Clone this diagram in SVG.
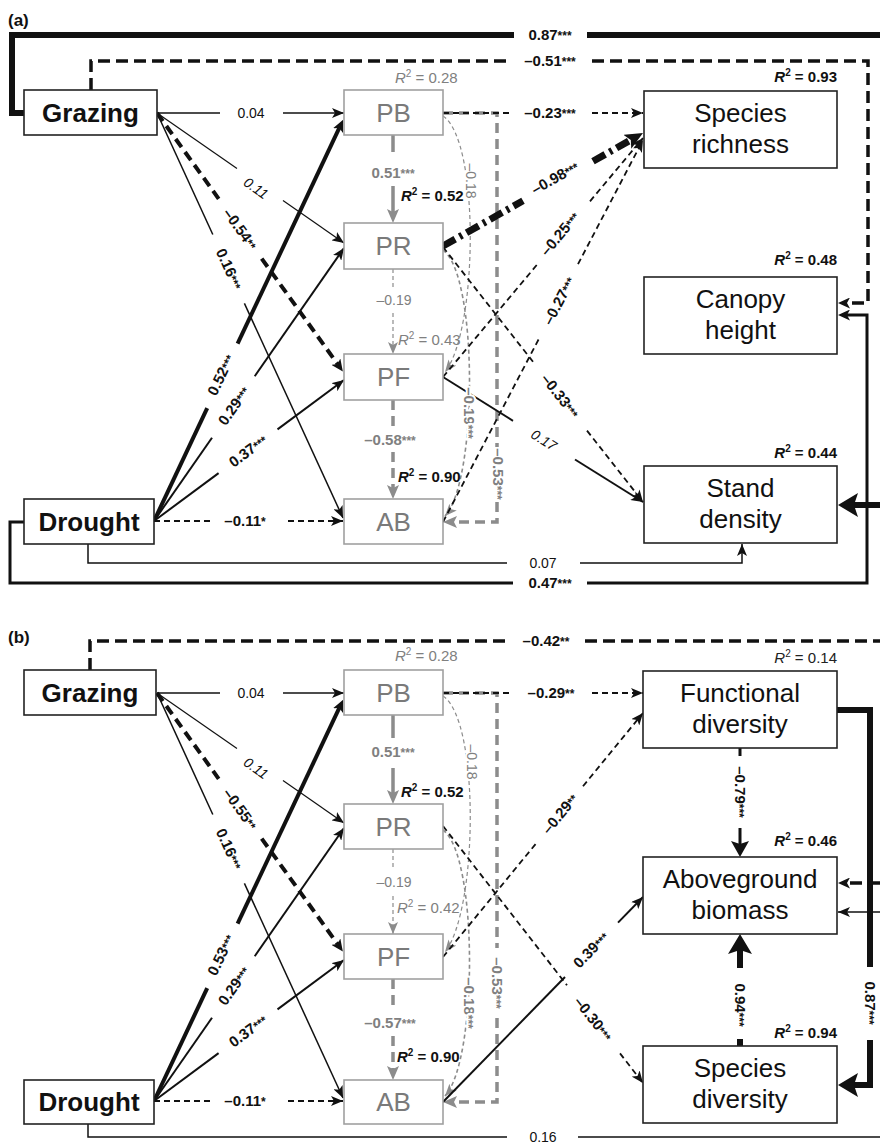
<svg xmlns="http://www.w3.org/2000/svg" width="880" height="1146" viewBox="0 0 880 1146">
<defs>
<style>
text{font-family:"Liberation Sans",Arial,sans-serif;}
.box{fill:#fff;stroke:#222;stroke-width:1.6;}
.mbox{fill:#fff;stroke:#a0a0a0;stroke-width:1.6;}
.nb{font-size:26px;font-weight:bold;fill:#111;text-anchor:middle;}
.n{font-size:26px;fill:#111;text-anchor:middle;}
.nm{font-size:26px;fill:#7a7a7a;text-anchor:middle;}
.lb{font-size:15px;font-weight:bold;fill:#111;text-anchor:middle;}
.l{font-size:14px;fill:#111;text-anchor:middle;}
.li{font-size:14px;font-style:italic;fill:#111;text-anchor:middle;}
.gb{font-size:15px;font-weight:bold;fill:#808080;text-anchor:middle;}
.g{font-size:14px;fill:#808080;text-anchor:middle;}
.halo{paint-order:stroke;stroke:#fff;stroke-width:4px;stroke-linejoin:round;}
.rb{font-size:15px;font-weight:bold;fill:#111;}
.rg{font-size:15px;fill:#808080;}
.rn{font-size:15px;fill:#222;}
.pan{font-size:17px;font-weight:bold;fill:#111;}
.s{font-size:12px;}
.k{fill:none;stroke:#111;stroke-width:1.5;}
.kd{fill:none;stroke:#111;stroke-width:1.8;stroke-dasharray:6 4;}
.kD{fill:none;stroke:#111;stroke-width:3.5;stroke-dasharray:12 6;}
.gr{fill:none;stroke:#8c8c8c;stroke-width:3.5;}
.grd{fill:none;stroke:#8c8c8c;stroke-width:3.5;stroke-dasharray:10 6;}
.grt{fill:none;stroke:#8c8c8c;stroke-width:1.2;stroke-dasharray:4 3;}
</style>
<marker id="a" viewBox="0 0 12 10" refX="12" refY="5" markerWidth="12" markerHeight="10" markerUnits="userSpaceOnUse" orient="auto"><path d="M0,0 L12,5 L0,10 L3,5 Z" fill="#111"/></marker>
<marker id="ag" viewBox="0 0 12 10" refX="12" refY="5" markerWidth="12" markerHeight="10" markerUnits="userSpaceOnUse" orient="auto"><path d="M0,0 L12,5 L0,10 L3,5 Z" fill="#8c8c8c"/></marker>
<marker id="agb" viewBox="0 0 14 12" refX="3" refY="6" markerWidth="14" markerHeight="12" markerUnits="userSpaceOnUse" orient="auto"><path d="M0,0 L14,6 L0,12 L3,6 Z" fill="#8c8c8c"/></marker>
<marker id="am" viewBox="0 0 12 11" refX="3" refY="5.5" markerWidth="12" markerHeight="11" markerUnits="userSpaceOnUse" orient="auto"><path d="M0,0 L12,5.5 L0,11 L3,5.5 Z" fill="#111"/></marker>
<marker id="am2" viewBox="0 0 16 18" refX="3" refY="9" markerWidth="16" markerHeight="18" markerUnits="userSpaceOnUse" orient="auto"><path d="M0,0 L16,9 L0,18 L3,9 Z" fill="#111"/></marker>
<marker id="ab" viewBox="0 0 20 24" refX="4" refY="12" markerWidth="20" markerHeight="24" markerUnits="userSpaceOnUse" orient="auto"><path d="M0,0 L20,12 L0,24 L4,12 Z" fill="#111"/></marker>
<marker id="ad" viewBox="0 0 18 16" refX="4" refY="8" markerWidth="18" markerHeight="16" markerUnits="userSpaceOnUse" orient="auto"><path d="M0,0 L18,8 L0,16 L4,8 Z" fill="#111"/></marker>
</defs>
<rect width="880" height="1146" fill="#fff"/>

<g id="connectors">
<path class="gr" d="M393,135 V152 M393,186 V212" marker-end="url(#agb)"/>
<path class="grt" d="M393,269 V287 M393,313 V354" marker-end="url(#ag)"/>
<path class="grd" d="M393,400 V427 M393,452 V488" marker-end="url(#agb)"/>
<path class="grd" d="M443,113 H497 V447"/>
<path class="grd" d="M497,502 V522 H454" marker-end="url(#agb)"/>
<path class="grt" d="M443,116 C480,140 478,330 445,372" marker-end="url(#ag)"/>
<path class="grt" style="stroke-width:1.6" d="M443,250 C478,275 478,480 445,516" marker-end="url(#ag)"/>
<path class="k" d="M157,113 H220"/><path class="k" d="M283,113 H344" marker-end="url(#a)"/>
<path class="k" style="stroke-width:1.2" d="M157,113 L237,168.6"/><path class="k" style="stroke-width:1.2" d="M283,200.6 L344,243" marker-end="url(#a)"/>
<path class="k" style="stroke-width:4;stroke-dasharray:10 6" d="M157,113 L218.7,198.8"/><path class="k" style="stroke-width:4;stroke-dasharray:10 6" d="M261.7,258.6 L337.6,364.1" marker-end="url(#am)"/>
<path class="k" d="M157,113 L212.8,234.5"/><path class="k" d="M244.4,303.4 L343,518" marker-end="url(#a)"/>
<path class="k" style="stroke-width:4" d="M154,521 L207.2,408.2"/><path class="k" style="stroke-width:4" d="M237.6,343.7 L339.3,127.9" marker-end="url(#am)"/>
<path class="k" style="stroke-width:2" d="M154,521 L212,437.7"/><path class="k" style="stroke-width:2" d="M254.7,376.3 L344,248" marker-end="url(#a)"/>
<path class="k" style="stroke-width:2" d="M154,521 L218.6,473.1"/><path class="k" style="stroke-width:2" d="M277.5,429.4 L344,380" marker-end="url(#a)"/>
<path class="kd" d="M154,521 H212"/><path class="kd" d="M288,521 H343" marker-end="url(#a)"/>
<path class="kd" d="M443,113 H513"/><path class="kd" d="M592,113 H643" marker-end="url(#a)"/>
<path class="k" style="stroke-width:7;stroke-dasharray:14 5 3 5" d="M443,246 L523,200.8"/><path class="k" style="stroke-width:7;stroke-dasharray:14 5 3 5" d="M593,161.3 L630.8,139.9" marker-end="url(#ad)"/>
<path class="kd" d="M443,377 L538,263.5"/><path class="kd" d="M590,201.3 L643,138" marker-end="url(#a)"/>
<path class="kd" d="M443,522 L539,338.6"/><path class="kd" d="M578,264.2 L643,140" marker-end="url(#a)"/>
<path class="kd" d="M443,247 L533,361.8"/><path class="kd" d="M587,430.6 L643,502" marker-end="url(#a)"/>
<path class="k" style="stroke-width:2" d="M443,377 L513,420.8"/><path class="k" style="stroke-width:2" d="M575,459.5 L643,502" marker-end="url(#a)"/>
<path class="k" style="stroke-width:6" d="M24,113 H12 V35 H514 M587,35 H880"/>
<path class="k" style="stroke-width:6" d="M880,505 H854" marker-end="url(#ab)"/>
<path class="kD" d="M91,90 V61 H507"/><path class="kD" d="M592,61 H868 V303 H847" marker-end="url(#am)"/>
<path class="k" style="stroke-width:3" d="M24,522 H10 V583 H513"/><path class="k" style="stroke-width:3" d="M587,583 H867 V315 H847" marker-end="url(#am)"/>
<path class="k" d="M88,544 V563 H507"/><path class="k" d="M580,563 H742 V544" marker-end="url(#a)"/>

<path class="gr" d="M393,715 V738 M393,768 V793" marker-end="url(#agb)"/>
<path class="grt" d="M393,849 V868 M393,896 V934" marker-end="url(#ag)"/>
<path class="grd" d="M393,979 V1008 M393,1036 V1069" marker-end="url(#agb)"/>
<path class="grd" d="M443,693 H497 V948"/>
<path class="grd" d="M497,1018 V1102 H454" marker-end="url(#agb)"/>
<path class="grt" d="M443,696 C480,720 478,910 445,952" marker-end="url(#ag)"/>
<path class="grt" style="stroke-width:1.6" d="M443,830 C478,855 478,1060 445,1096" marker-end="url(#ag)"/>
<path class="k" d="M157,693 H220"/><path class="k" d="M283,693 H344" marker-end="url(#a)"/>
<path class="k" style="stroke-width:1.2" d="M157,693 L237,748.6"/><path class="k" style="stroke-width:1.2" d="M283,780.6 L344,823" marker-end="url(#a)"/>
<path class="k" style="stroke-width:4;stroke-dasharray:10 6" d="M157,693 L218.7,778.8"/><path class="k" style="stroke-width:4;stroke-dasharray:10 6" d="M261.7,838.6 L337.6,944.1" marker-end="url(#am)"/>
<path class="k" d="M157,693 L212.8,814.5"/><path class="k" d="M244.4,883.4 L343,1098" marker-end="url(#a)"/>
<path class="k" style="stroke-width:4" d="M154,1101 L207.2,988.2"/><path class="k" style="stroke-width:4" d="M237.6,923.7 L339.3,707.9" marker-end="url(#am)"/>
<path class="k" style="stroke-width:2" d="M154,1101 L212,1017.7"/><path class="k" style="stroke-width:2" d="M254.7,956.3 L344,828" marker-end="url(#a)"/>
<path class="k" style="stroke-width:2" d="M154,1101 L218.6,1053.1"/><path class="k" style="stroke-width:2" d="M277.5,1009.4 L344,960" marker-end="url(#a)"/>
<path class="kd" d="M154,1101 H212"/><path class="kd" d="M288,1101 H343" marker-end="url(#a)"/>
<path class="kd" d="M443,693 H513"/><path class="kd" d="M592,693 H643" marker-end="url(#a)"/>
<path class="kd" d="M443,957 L537,842.3"/><path class="kd" d="M583,786.2 L643,713" marker-end="url(#a)"/>
<path class="kd" d="M443,826 L567,985.3"/><path class="kd" d="M620,1053.4 L643,1083" marker-end="url(#a)"/>
<path class="k" style="stroke-width:2" d="M443,1102 L565,977"/><path class="k" style="stroke-width:2" d="M618,922.6 L643,897" marker-end="url(#a)"/>
<path class="k" style="stroke-width:3;stroke-dasharray:8 5" d="M740,748 V757"/><path class="k" style="stroke-width:3" d="M740,828 V844" marker-end="url(#am2)"/>
<path class="k" style="stroke-width:6" d="M740,1046 V1039"/><path class="k" style="stroke-width:6" d="M740,968 V950" marker-end="url(#ab)"/>
<path class="k" style="stroke-width:6" d="M837,710 H870 V967"/><path class="k" style="stroke-width:6" d="M870,1040 V1085 H854" marker-end="url(#ab)"/>
<path class="kD" d="M90,670 V641 H507 M585,641 H880"/><path class="kD" d="M880,883 H847" marker-end="url(#am)"/>
<path class="k" d="M88,1124 V1137 H507 M578,1137 H880"/><path class="k" d="M880,912 H838" marker-end="url(#a)"/>
</g>

<g id="edge-labels">
<text class="pan" x="8" y="26">(a)</text>
<text class="lb" x="550" y="40">0.87<tspan class="s">***</tspan></text>
<text class="lb" x="550" y="66">–0.51<tspan class="s">***</tspan></text>
<text class="l" x="251" y="118">0.04</text>
<text class="lb" x="550" y="118">–0.23<tspan class="s">***</tspan></text>
<text class="gb" x="393" y="178">0.51<tspan class="s">***</tspan></text>
<text class="g halo" transform="translate(471,181) rotate(90)" y="5">–0.18</text>
<text class="li" transform="translate(256,188) rotate(34.8)" y="5">0.11</text>
<text class="lb" transform="translate(240,229) rotate(54.3)" y="5">–0.54<tspan class="s">**</tspan></text>
<text class="lb" transform="translate(229,269) rotate(65.3)" y="5">0.16<tspan class="s">***</tspan></text>
<text class="lb" transform="translate(555,178) rotate(-29.5)" y="5">–0.98<tspan class="s">***</tspan></text>
<text class="lb" transform="translate(560,234) rotate(-50.1)" y="5">–0.25<tspan class="s">***</tspan></text>
<text class="lb" transform="translate(559,301) rotate(-62.4)" y="5">–0.27<tspan class="s">***</tspan></text>
<text class="g" x="394" y="305">–0.19</text>
<text class="lb" transform="translate(221,375) rotate(-64.8)" y="5">0.52<tspan class="s">***</tspan></text>
<text class="lb" transform="translate(560,396) rotate(51.9)" y="5">–0.33<tspan class="s">***</tspan></text>
<text class="lb" transform="translate(234,406) rotate(-55.2)" y="5">0.29<tspan class="s">***</tspan></text>
<text class="gb halo" transform="translate(469,413) rotate(90)" y="5">–0.19<tspan class="s">***</tspan></text>
<text class="gb" x="390" y="445">–0.58<tspan class="s">***</tspan></text>
<text class="lb" transform="translate(248,451) rotate(-36.6)" y="5">0.37<tspan class="s">***</tspan></text>
<text class="li" transform="translate(544,440) rotate(32)" y="5">0.17</text>
<text class="gb" transform="translate(498,474) rotate(90)" y="5">–0.53<tspan class="s">***</tspan></text>
<text class="lb" x="245" y="526">–0.11<tspan class="s">*</tspan></text>
<text class="l" x="543" y="568">0.07</text>
<text class="lb" x="550" y="588">0.47<tspan class="s">***</tspan></text>
<text class="rg" x="395" y="83"><tspan font-style="italic">R</tspan><tspan font-size="10" dy="-6">2</tspan><tspan dy="6"> = 0.28</tspan></text>
<text class="rb" x="401" y="201"><tspan font-style="italic">R</tspan><tspan font-size="10" dy="-6">2</tspan><tspan dy="6"> = 0.52</tspan></text>
<text class="rg" x="398" y="345"><tspan font-style="italic">R</tspan><tspan font-size="10" dy="-6">2</tspan><tspan dy="6"> = 0.43</tspan></text>
<text class="rb" x="398" y="482"><tspan font-style="italic">R</tspan><tspan font-size="10" dy="-6">2</tspan><tspan dy="6"> = 0.90</tspan></text>
<text class="rb" x="837" y="82" text-anchor="end"><tspan font-style="italic">R</tspan><tspan font-size="10" dy="-6">2</tspan><tspan dy="6"> = 0.93</tspan></text>
<text class="rb" x="837" y="265" text-anchor="end"><tspan font-style="italic">R</tspan><tspan font-size="10" dy="-6">2</tspan><tspan dy="6"> = 0.48</tspan></text>
<text class="rb" x="837" y="458" text-anchor="end"><tspan font-style="italic">R</tspan><tspan font-size="10" dy="-6">2</tspan><tspan dy="6"> = 0.44</tspan></text>

<text class="pan" x="8" y="643">(b)</text>
<text class="lb" x="546" y="646">–0.42<tspan class="s">**</tspan></text>
<text class="l" x="251" y="698">0.04</text>
<text class="lb" x="551" y="698">–0.29<tspan class="s">**</tspan></text>
<text class="gb" x="393" y="757">0.51<tspan class="s">***</tspan></text>
<text class="g halo" transform="translate(472,762) rotate(90)" y="5">–0.18</text>
<text class="li" transform="translate(256,768) rotate(34.8)" y="5">0.11</text>
<text class="lb" transform="translate(240,809) rotate(54.3)" y="5">–0.55<tspan class="s">**</tspan></text>
<text class="lb" transform="translate(740,792) rotate(90)" y="5">–0.79<tspan class="s">***</tspan></text>
<text class="lb" transform="translate(560,814) rotate(-50.7)" y="5">–0.29<tspan class="s">**</tspan></text>
<text class="lb" transform="translate(229,849) rotate(65.3)" y="5">0.16<tspan class="s">***</tspan></text>
<text class="g" x="394" y="887">–0.19</text>
<text class="lb" transform="translate(591,950) rotate(-45.7)" y="5">0.39<tspan class="s">***</tspan></text>
<text class="lb" transform="translate(221,955) rotate(-64.8)" y="5">0.53<tspan class="s">***</tspan></text>
<text class="gb" transform="translate(497,983) rotate(90)" y="5">–0.53<tspan class="s">***</tspan></text>
<text class="lb" transform="translate(234,986) rotate(-55.2)" y="5">0.29<tspan class="s">***</tspan></text>
<text class="gb halo" transform="translate(469,1003) rotate(90)" y="5">–0.18<tspan class="s">***</tspan></text>
<text class="lb" transform="translate(740,1005) rotate(90)" y="5">0.94<tspan class="s">***</tspan></text>
<text class="lb" transform="translate(870,1003) rotate(90)" y="5">0.87<tspan class="s">***</tspan></text>
<text class="lb" transform="translate(593,1019) rotate(52.1)" y="5">–0.30<tspan class="s">***</tspan></text>
<text class="gb" x="390" y="1028">–0.57<tspan class="s">***</tspan></text>
<text class="lb" transform="translate(248,1031) rotate(-36.6)" y="5">0.37<tspan class="s">***</tspan></text>
<text class="lb" x="245" y="1106">–0.11<tspan class="s">*</tspan></text>
<text class="l" x="543" y="1142">0.16</text>
<text class="rg" x="395" y="661"><tspan font-style="italic">R</tspan><tspan font-size="10" dy="-6">2</tspan><tspan dy="6"> = 0.28</tspan></text>
<text class="rb" x="401" y="797"><tspan font-style="italic">R</tspan><tspan font-size="10" dy="-6">2</tspan><tspan dy="6"> = 0.52</tspan></text>
<text class="rg" x="397" y="913"><tspan font-style="italic">R</tspan><tspan font-size="10" dy="-6">2</tspan><tspan dy="6"> = 0.42</tspan></text>
<text class="rb" x="397" y="1062"><tspan font-style="italic">R</tspan><tspan font-size="10" dy="-6">2</tspan><tspan dy="6"> = 0.90</tspan></text>
<text class="rn" x="837" y="663" text-anchor="end"><tspan font-style="italic">R</tspan><tspan font-size="10" dy="-6">2</tspan><tspan dy="6"> = 0.14</tspan></text>
<text class="rb" x="837" y="846" text-anchor="end"><tspan font-style="italic">R</tspan><tspan font-size="10" dy="-6">2</tspan><tspan dy="6"> = 0.46</tspan></text>
<text class="rb" x="837" y="1038" text-anchor="end"><tspan font-style="italic">R</tspan><tspan font-size="10" dy="-6">2</tspan><tspan dy="6"> = 0.94</tspan></text>
</g>

<g id="a-grazing"><rect class="box" x="24" y="90" width="133" height="45"/><text class="nb" x="90.5" y="122">Grazing</text></g>
<g id="a-drought"><rect class="box" x="24" y="499" width="130" height="45"/><text class="nb" x="89" y="531">Drought</text></g>
<g id="a-pb"><rect class="mbox" x="344" y="90" width="99" height="45"/><text class="nm" x="393.5" y="122">PB</text></g>
<g id="a-pr"><rect class="mbox" x="344" y="223" width="99" height="46"/><text class="nm" x="393.5" y="255">PR</text></g>
<g id="a-pf"><rect class="mbox" x="344" y="354" width="99" height="46"/><text class="nm" x="393.5" y="386">PF</text></g>
<g id="a-ab"><rect class="mbox" x="344" y="499" width="99" height="45"/><text class="nm" x="393.5" y="531">AB</text></g>
<g id="a-richness"><rect class="box" x="644" y="91" width="193" height="77"/><text class="n" x="740.5" y="122">Species</text><text class="n" x="740.5" y="153">richness</text></g>
<g id="a-canopy"><rect class="box" x="644" y="277" width="193" height="77"/><text class="n" x="740.5" y="308">Canopy</text><text class="n" x="740.5" y="339">height</text></g>
<g id="a-stand"><rect class="box" x="644" y="466" width="193" height="77"/><text class="n" x="740.5" y="497">Stand</text><text class="n" x="740.5" y="528">density</text></g>

<g id="b-grazing"><rect class="box" x="24" y="670" width="132" height="45"/><text class="nb" x="90" y="702">Grazing</text></g>
<g id="b-drought"><rect class="box" x="24" y="1080" width="130" height="44"/><text class="nb" x="89" y="1111">Drought</text></g>
<g id="b-pb"><rect class="mbox" x="344" y="670" width="99" height="45"/><text class="nm" x="393.5" y="702">PB</text></g>
<g id="b-pr"><rect class="mbox" x="344" y="804" width="99" height="45"/><text class="nm" x="393.5" y="836">PR</text></g>
<g id="b-pf"><rect class="mbox" x="344" y="934" width="99" height="45"/><text class="nm" x="393.5" y="966">PF</text></g>
<g id="b-ab"><rect class="mbox" x="344" y="1080" width="99" height="44"/><text class="nm" x="393.5" y="1111">AB</text></g>
<g id="b-functional"><rect class="box" x="643" y="671" width="194" height="77"/><text class="n" x="740" y="702">Functional</text><text class="n" x="740" y="733">diversity</text></g>
<g id="b-biomass"><rect class="box" x="643" y="857" width="194" height="77"/><text class="n" x="740" y="888">Aboveground</text><text class="n" x="740" y="919">biomass</text></g>
<g id="b-diversity"><rect class="box" x="643" y="1046" width="194" height="77"/><text class="n" x="740" y="1077">Species</text><text class="n" x="740" y="1108">diversity</text></g>
</svg>
